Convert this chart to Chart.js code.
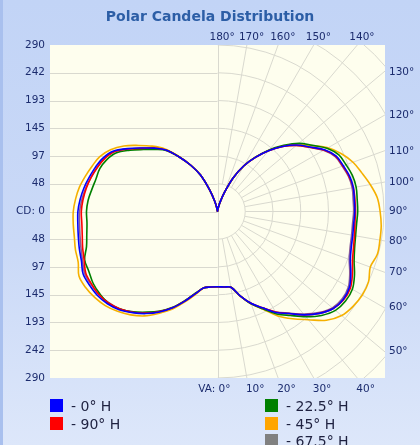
<!DOCTYPE html>
<html>
<head>
<meta charset="utf-8">
<script src="https://cdn.jsdelivr.net/npm/chart.js@4/dist/chart.umd.min.js"></script>
<style>
  html, body { margin: 0; padding: 0; }
  body {
    width: 420px; height: 445px; overflow: hidden; position: relative;
    background: linear-gradient(to bottom, #c2d4f6 0%, #cad9f7 55%, #dde7fa 100%);
    font-family: "DejaVu Sans", sans-serif;
  }
  .edge { position: absolute; left: 0; top: 0; width: 3px; height: 445px; background: #a9c0ee; }
  #chart { position: absolute; left: 0; top: 0; }
  .key { position: absolute; font-size: 14px; color: #1e2140; line-height: 14px; white-space: nowrap; }
  .key span { display: inline-block; width: 13px; height: 13px; vertical-align: -1px; margin-right: 8px; }
</style>
</head>
<body>
<div class="edge"></div>
<canvas id="chart" width="420" height="445"></canvas>
<div id="legend"></div>
<script>
// vertical angles (0 = straight down, 180 = straight up)
const vAngles = [0,5,10,15,20,25,30,35,40,45,50,55,60,65,70,75,80,85,90,95,100,105,110,115,120,125,130,135,140,145,150,155,160,165,170,175,180];

// candela, left half and right half of each plane
const h0Left   = [131,132,135,148,166,185,202,217,230,242,250,255,257,258,252,249,246,244,243,240,236,231,226,220,210,191,172,156,140,116,93,70,40,18,5,0,0];
const h0Right  = [131,132,134,152,170,185,203,217,235,251,263,267,265,256,246,241,239,238,239,239,240,238,233,228,215,196,180,160,138,115,92,65,36,16,5,0,0];
const h90Left  = [131,132,135,148,166,185,201,216,229,240,248,252,253,253,247,243,239,237,237,235,232,228,223,217,208,190,171,156,140,116,93,70,40,18,5,0,0];
const h90Right = [131,132,134,152,170,185,202,217,235,251,263,268,267,259,250,245,242,240,240,240,240,237,232,227,214,195,179,160,138,115,92,65,36,16,5,0,0];
const h22Left  = [131,132,135,147,165,184,200,214,228,240,248,250,250,247,246,236,231,228,228,226,222,219,218,213,204,186,168,153,139,116,93,70,40,18,5,0,0];
const h22Right = [131,132,134,152,171,187,206,221,239,256,268,272,271,263,253,247,244,243,244,244,245,243,238,233,220,201,185,163,140,116,92,65,36,16,5,0,0];
const h45Left  = [131,132,135,150,168,188,205,222,235,246,255,261,265,266,258,256,253,252,251,248,244,238,232,226,215,199,179,161,142,117,93,70,40,18,5,0,0];
const h45Right = [131,132,134,152,171,188,210,228,246,268,282,288,291,290,283,288,287,286,283,279,270,260,251,238,222,200,182,161,139,115,92,65,36,16,5,0,0];
const h67Left  = [131,132,135,148,166,185,201,216,229,240,247,252,254,255,250,246,243,241,240,237,233,228,223,218,208,190,171,156,140,116,93,70,40,18,5,0,0];
const h67Right = [131,132,134,152,170,185,202,216,233,249,261,265,263,254,244,239,237,236,237,237,238,236,231,226,213,195,179,160,138,115,92,65,36,16,5,0,0];

const seriesNames  = ['- 0° H', '- 90° H', '- 22.5° H', '- 45° H', '- 67.5° H'];
const seriesColors = ['#0000ff', '#ff0000', '#008000', '#f5b000', '#8a5a98'];
const legendColors = ['#0000ff', '#ff0000', '#008000', '#ffa500', '#808080'];

// axis labels
const cdMax = 290;
const cdTicks = [-290, -241.67, -193.33, -145, -96.67, -48.33, 0, 48.33, 96.67, 145, 193.33, 241.67, 290];
const topAngles = [180, 170, 160, 150, 140];
const sideAngles = [130, 120, 110, 100, 90, 80, 70, 60, 50];
const bottomAngles = [0, 10, 20, 30, 40];
const gridStep = 48.33;

const rad = d => d * Math.PI / 180;

function tracePoints(left, right) {
    const pts = [];
    for (let i = vAngles.length - 1; i >= 0; i--) {
        const a = rad(vAngles[i]);
        pts.push({x: -left[i] * Math.sin(a), y: -left[i] * Math.cos(a)});
    }
    for (let i = 1; i < vAngles.length; i++) {
        const a = rad(vAngles[i]);
        pts.push({x: right[i] * Math.sin(a), y: -right[i] * Math.cos(a)});
    }
    return pts;
}

const planes = [[h0Left, h0Right], [h90Left, h90Right], [h22Left, h22Right], [h45Left, h45Right], [h67Left, h67Right]];

const polarGrid = {
    id: 'polarGrid',
    beforeDraw(chart) {
        const {ctx, chartArea: a} = chart;
        ctx.save();
        ctx.fillStyle = '#fefeee';
        ctx.fillRect(a.left, a.top, a.right - a.left, a.bottom - a.top);
        ctx.restore();
    },
    beforeDatasetsDraw(chart) {
        const {ctx, chartArea: a, scales: {x, y}} = chart;
        const cx = x.getPixelForValue(0), cy = y.getPixelForValue(0);
        ctx.save();
        ctx.strokeStyle = '#d9d9cf';
        ctx.lineWidth = 1;

        // left half: plain horizontal lines
        cdTicks.forEach(v => {
            if (Math.abs(v) >= cdMax) return;
            const py = Math.round(y.getPixelForValue(v)) + 0.5;
            ctx.beginPath(); ctx.moveTo(a.left, py); ctx.lineTo(cx, py); ctx.stroke();
        });
        ctx.beginPath(); ctx.moveTo(Math.round(cx) + 0.5, a.top); ctx.lineTo(Math.round(cx) + 0.5, a.bottom); ctx.stroke();

        // right half: polar grid
        ctx.beginPath();
        ctx.rect(cx, a.top, a.right - cx, a.bottom - a.top);
        ctx.clip();
        for (let k = 1; k <= 9; k++) {
            const r = cy - y.getPixelForValue(k * gridStep);
            ctx.beginPath(); ctx.arc(cx, cy, r, -Math.PI / 2, Math.PI / 2); ctx.stroke();
        }
        for (let d = 10; d < 180; d += 10) {
            const s = Math.sin(rad(d)), c = Math.cos(rad(d));
            ctx.beginPath();
            ctx.moveTo(x.getPixelForValue(gridStep * s), y.getPixelForValue(-gridStep * c));
            ctx.lineTo(x.getPixelForValue(700 * s), y.getPixelForValue(-700 * c));
            ctx.stroke();
        }
        ctx.restore();
    },
    afterDraw(chart) {
        const {ctx, chartArea: a, scales: {x, y}} = chart;
        ctx.save();
        ctx.font = '10.5px "DejaVu Sans"';
        ctx.fillStyle = '#1c2c6e';
        ctx.textBaseline = 'middle';
        ctx.textAlign = 'left';
        topAngles.forEach(d => {
            const px = x.getPixelForValue(cdMax * Math.tan(rad(180 - d)));
            ctx.fillText(d + '°', px - 8, a.top - 8);
        });
        sideAngles.forEach(d => {
            const py = y.getPixelForValue(-cdMax / Math.tan(rad(d)));
            ctx.fillText(d + '°', a.right + 4, py);
        });
        bottomAngles.forEach(d => {
            const px = x.getPixelForValue(cdMax * Math.tan(rad(d)));
            if (d === 0) {
                ctx.textAlign = 'right';
                ctx.fillText('VA: 0°', px + 13, a.bottom + 11);
                ctx.textAlign = 'left';
            } else {
                ctx.fillText(d + '°', px - 1, a.bottom + 11);
            }
        });
        ctx.restore();
    }
};

new Chart(document.getElementById('chart'), {
    type: 'scatter',
    data: {
        datasets: planes.map((p, i) => ({
            label: seriesNames[i],
            data: tracePoints(p[0], p[1]),
            showLine: true,
            borderColor: seriesColors[i],
            borderWidth: 1.6,
            pointRadius: 0,
            tension: 0.35,
            fill: false
        }))
    },
    options: {
        responsive: false,
        animation: false,
        layout: { padding: { top: 0, left: 0, right: 0, bottom: 67 } },
        plugins: {
            legend: { display: false },
            tooltip: { enabled: false },
            title: {
                display: true,
                text: 'Polar Candela Distribution',
                color: '#2c5ea6',
                font: { family: '"DejaVu Sans"', size: 14, weight: 'bold' },
                padding: { top: 9, bottom: 19.2 }
            }
        },
        scales: {
            x: { type: 'linear', min: -291.5, max: 291.5, display: false },
            y: {
                type: 'linear', min: -cdMax, max: cdMax,
                afterBuildTicks: s => { s.ticks = cdTicks.map(v => ({value: v})); },
                afterFit: s => { s.width = 50; },
                grid: { display: false, drawTicks: false },
                border: { display: false },
                ticks: {
                    color: '#1c2c6e',
                    padding: 5,
                    font: { family: '"DejaVu Sans"', size: 10.5 },
                    callback: v => v === 0 ? 'CD: 0' : Math.round(Math.abs(v))
                }
            },
            // empty right axis, only keeps room for the angle labels
            yRight: {
                position: 'right', min: -cdMax, max: cdMax,
                afterFit: s => { s.width = 35; },
                grid: { display: false, drawTicks: false },
                border: { display: false },
                ticks: { display: false }
            }
        }
    },
    plugins: [polarGrid]
});

// legend, two columns like the original
const legendEl = document.getElementById('legend');
const keyPos = [[50, 399], [50, 417], [265, 399], [265, 417], [265, 434]];
seriesNames.forEach((name, i) => {
    const d = document.createElement('div');
    d.className = 'key';
    d.style.left = keyPos[i][0] + 'px';
    d.style.top = keyPos[i][1] + 'px';
    d.innerHTML = '<span style="background:' + legendColors[i] + '"></span>' + name;
    legendEl.appendChild(d);
});
</script>
</body>
</html>
